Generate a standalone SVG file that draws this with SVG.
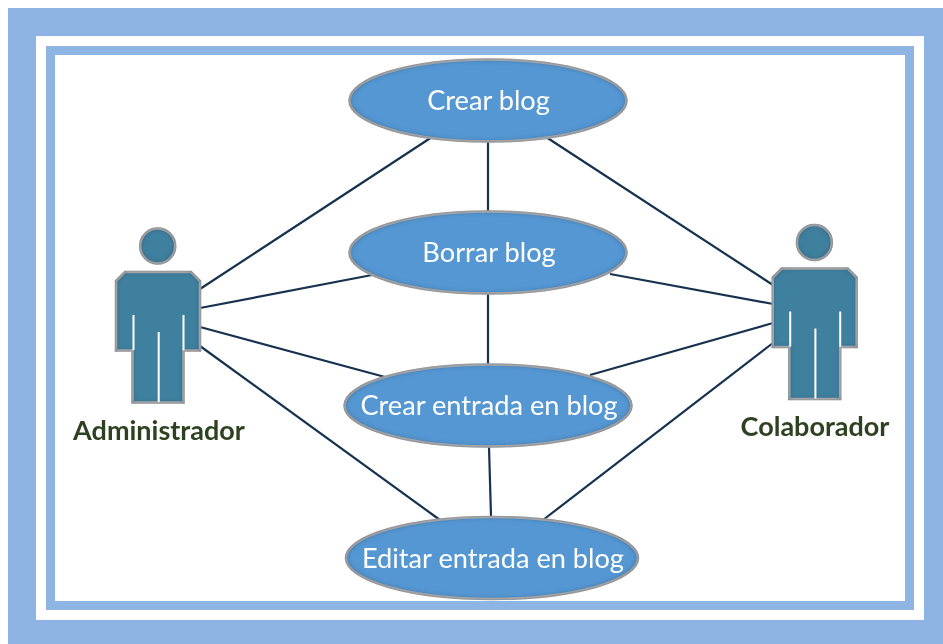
<svg xmlns="http://www.w3.org/2000/svg" width="943" height="644" viewBox="0 0 943 644">
<style>
.frame{fill:#8eb4e3}
.wh{fill:#fff}
.line{stroke:#17324f;stroke-width:2.2;fill:none}
.uc{fill:#5597d3;stroke:#bcbcbc;stroke-width:2.5;filter:url(#inner)}
.act{fill:#41809f;stroke:#bcbcbc;stroke-width:2.5;stroke-linejoin:miter;filter:url(#inner)}
.slit{stroke:#fff;stroke-width:2;fill:none}
.ut{font-family:Lato,"Open Sans",sans-serif;font-size:27.200px;fill:#fff;text-anchor:middle;filter:url(#soft)}
.at{font-family:Lato,"Open Sans",sans-serif;font-size:27px;font-weight:700;fill:#2f4322;text-anchor:middle;filter:url(#soft)}
</style>
<defs>
<filter id="soft" x="-5%" y="-10%" width="110%" height="120%"><feGaussianBlur stdDeviation="0.4"/></filter>
<filter id="inner" x="-5%" y="-5%" width="110%" height="110%">
<feMorphology in="SourceAlpha" operator="erode" radius="2" result="e"/>
<feGaussianBlur in="e" stdDeviation="2.2" result="b"/>
<feComposite in="SourceAlpha" in2="b" operator="out" result="edge"/>
<feFlood flood-color="#33475c" flood-opacity="0.55"/>
<feComposite in2="edge" operator="in" result="sh"/>
<feMerge><feMergeNode in="SourceGraphic"/><feMergeNode in="sh"/></feMerge>
</filter>
<g id="fig">
<circle class="act" cx="157.7" cy="246" r="17.5"/>
<path class="act" d="M125 272H191L200 281V350.5H183.5V402.5H132.5V350.5H116V281Z"/>
<path class="slit" d="M133.5 315V350M183.5 315V350M158.7 332V402"/>
</g>
</defs>
<rect width="943" height="644" fill="#fff"/>
<g id="frame">
<rect class="frame" x="8" y="8" width="935" height="636"/>
<rect class="wh" x="36" y="36" width="888" height="584"/>
<rect class="frame" x="46" y="46" width="868" height="564"/>
<rect class="wh" x="55" y="55" width="850" height="546"/>
</g>
<g id="connectors">
<path class="line" d="M200 289L432 137M200 308L372 275M200 327L385 377M200 346L440 520"/>
<path class="line" d="M773 285L546 137M773 304L610 274M773 323L590 375M773 343L543 520"/>
<path class="line" d="M488 142V211M488 294V364M489 447L491 516"/>
</g>
<g id="uc-crear-blog"><ellipse class="uc" cx="488" cy="100.500" rx="138.500" ry="41"/><text class="ut" x="488.500" y="110">Crear blog</text></g>
<g id="uc-borrar-blog"><ellipse class="uc" cx="488" cy="252.500" rx="138.500" ry="41"/><text class="ut" x="489" y="262">Borrar blog</text></g>
<g id="uc-crear-entrada"><ellipse class="uc" cx="488" cy="405.500" rx="143.500" ry="41"/><text class="ut" x="489" y="415">Crear entrada en blog</text></g>
<g id="uc-editar-entrada"><ellipse class="uc" cx="492" cy="558" rx="146" ry="41"/><text class="ut" x="493" y="568">Editar entrada en blog</text></g>
<g id="actor-administrador"><use href="#fig"/><text class="at" x="159" y="440">Administrador</text></g>
<g id="actor-colaborador"><use href="#fig" x="656.700" y="-3.500"/><text class="at" x="815" y="436">Colaborador</text></g>
</svg>
